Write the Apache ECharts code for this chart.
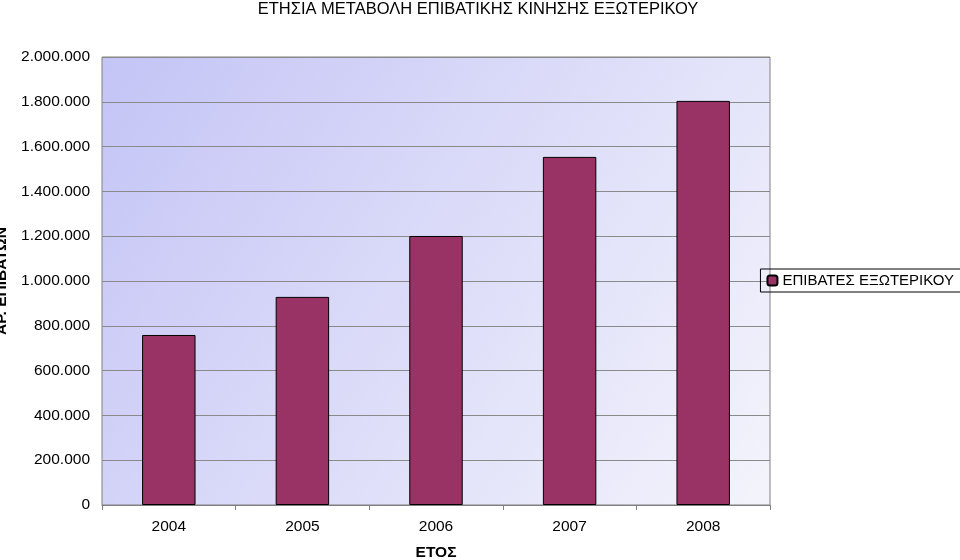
<!DOCTYPE html>
<html>
<head>
<meta charset="utf-8">
<script src="https://cdn.jsdelivr.net/npm/echarts@6/dist/echarts.min.js"></script>
<style>html,body{margin:0;padding:0;background:#fff}#chart{width:960px;height:560px}</style>
</head>
<body>
<div id="chart"></div>
<script>
// Ετήσια μεταβολή επιβατικής κίνησης εξωτερικού
var years = ['2004', '2005', '2006', '2007', '2008'];
var passengers = [759000, 929000, 1201000, 1554000, 1804000];
var seriesName = 'ΕΠΙΒΑΤΕΣ ΕΞΩΤΕΡΙΚΟΥ';

function fmt(v) {
    return String(v).replace(/\B(?=(\d{3})+(?!\d))/g, '.');
}

var myChart = echarts.init(document.getElementById('chart'));
var option = {
    textStyle: { fontFamily: 'Liberation Sans', color: '#000' },
    title: {
        text: 'ΕΤΗΣΙΑ ΜΕΤΑΒΟΛΗ ΕΠΙΒΑΤΙΚΗΣ ΚΙΝΗΣΗΣ ΕΞΩΤΕΡΙΚΟΥ',
        left: 473, top: -4, textAlign: 'center',
        textStyle: { fontFamily: 'Liberation Sans', fontSize: 16.5, fontWeight: 'normal', color: '#000' }
    },
    legend: {
        data: [seriesName],
        right: -2, top: 269,
        orient: 'vertical',
        itemWidth: 10, itemHeight: 10, itemGap: 4,
        borderColor: '#000', borderWidth: 1, padding: [4, 8, 4, 6],
        textStyle: { fontFamily: 'Liberation Sans', fontSize: 15, color: '#000' }
    },
    grid: {
        left: 102, right: 190, top: 57, bottom: 55,
        outerBoundsMode: 'none',
        show: true, borderColor: '#808080', borderWidth: 1,
        backgroundColor: new echarts.graphic.LinearGradient(0, 0, 1, 1, [
            { offset: 0, color: '#c4c4f6' },
            { offset: 1, color: '#f4f4fc' }
        ])
    },
    xAxis: {
        type: 'category',
        data: years,
        name: 'ΕΤΟΣ', nameLocation: 'middle', nameGap: 40,
        nameTextStyle: { fontFamily: 'Liberation Sans', fontSize: 15.5, fontWeight: 'bold', color: '#000' },
        axisLine: { lineStyle: { color: '#808080' } },
        axisTick: { show: true, length: 5, lineStyle: { color: '#808080' } },
        axisLabel: { fontSize: 15.5, color: '#000', margin: 14 }
    },
    yAxis: {
        type: 'value', min: 0, max: 2000000, interval: 200000,
        name: 'ΑΡ. ΕΠΙΒΑΤΩΝ', nameLocation: 'middle', nameGap: 92, nameRotate: 90,
        nameTextStyle: { fontFamily: 'Liberation Sans', fontSize: 15.5, fontWeight: 'bold', color: '#000' },
        axisLine: { show: false },
        axisTick: { show: false },
        splitLine: { lineStyle: { color: '#8a8a8a' } },
        axisLabel: { fontSize: 15.5, color: '#000', margin: 12, formatter: fmt }
    },
    series: [{
        name: seriesName,
        type: 'bar',
        barWidth: '40%',
        data: passengers,
        itemStyle: { color: '#993366', borderColor: '#000', borderWidth: 1 }
    }]
};
myChart.setOption(option);
</script>
</body>
</html>
